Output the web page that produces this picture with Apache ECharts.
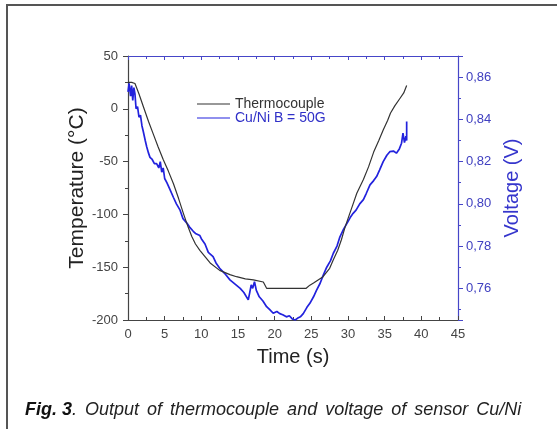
<!DOCTYPE html>
<html>
<head>
<meta charset="utf-8">
<script src="https://cdn.jsdelivr.net/npm/echarts@6/dist/echarts.min.js"></script>
<style>
html,body{margin:0;padding:0;background:#fff;}
#chart{width:557px;height:429px;}
</style>
</head>
<body>
<div id="chart"></div>
<script>
// thermocouple : time (s) / temperature (°C)
var timeT = [0, 0.5, 0.95, 1.5, 2.1, 2.8, 3.45, 4.1, 4.8, 5.5, 6.2, 6.9, 7.55, 8.2, 8.7, 9.2, 9.8, 10.5, 11.2, 12.5, 13.9,
	14.8, 16, 17.1, 18.45, 18.9, 20, 22, 24.3, 24.8, 25.3, 26.6, 27.5, 28, 28.6, 29.1, 29.6, 30.2, 30.7, 31.2, 32.1, 32.8,
	33.5, 34.2, 34.8, 35.4, 35.8, 36.4, 37.1, 37.6, 38.0];
var tempT = [25, 25, 24, 14, 2, -12, -24, -36, -48, -59, -71, -85, -99, -112, -121, -128, -134, -140, -146, -153, -157,
	-159, -161, -162, -164, -170, -170, -170, -170, -167, -165, -159, -151, -143, -134, -124, -112, -100, -90, -80, -67, -55,
	-41, -30, -20, -11, -4, 3, 10, 15, 22];

// capteur Cu/Ni B = 50G : time (s) / voltage (V)
var timeV = [0, 0.15, 0.35, 0.5, 0.65, 0.8, 0.95, 1.1, 1.3, 1.5, 1.7, 1.9, 2.1, 2.35, 2.55, 2.8, 3.0, 3.3, 3.6, 3.9,
	4.2, 4.4, 4.6, 4.8, 5.0, 5.3, 5.7, 6.2, 6.6, 7.1, 7.5, 8.0, 8.4, 8.9, 9.2, 9.5, 9.8, 10.0, 10.5, 10.95, 11.6, 12.0,
	12.5, 13.2, 13.9, 14.6, 15.3, 15.8, 16.4, 16.6, 16.8, 17.0, 17.25, 17.5, 17.9, 18.4, 18.9, 19.3, 19.8, 20.3, 20.7,
	21.1, 21.6, 22.0, 22.4, 22.8, 23.1, 23.5, 23.9, 24.4, 24.8, 25.3, 25.7, 26.2, 26.6, 27.1, 27.6, 28.0, 28.5, 28.9,
	29.4, 29.9, 30.3, 30.7, 31.1, 31.6, 32.1, 32.5, 33.0, 33.5, 33.9, 34.3, 34.8, 35.3, 35.7, 36.2, 36.6, 37.0, 37.3,
	37.5, 37.7, 37.9, 38.0, 38.0];
var volt = [0.853, 0.857, 0.851, 0.856, 0.849, 0.855, 0.852, 0.845, 0.846, 0.841, 0.842, 0.837, 0.834, 0.830, 0.827,
	0.824, 0.822, 0.821, 0.819, 0.819, 0.817, 0.820, 0.815, 0.817, 0.812, 0.810, 0.807, 0.803, 0.800, 0.797, 0.793,
	0.791, 0.789, 0.787, 0.786, 0.7855, 0.785, 0.7835, 0.781, 0.777, 0.775, 0.772, 0.7695, 0.767, 0.764, 0.762, 0.760,
	0.758, 0.7545, 0.758, 0.7616, 0.760, 0.7631, 0.759, 0.756, 0.754, 0.7513, 0.750, 0.7482, 0.749, 0.748, 0.7475,
	0.7465, 0.747, 0.7455, 0.745, 0.7458, 0.7465, 0.748, 0.751, 0.7529, 0.756, 0.759, 0.7624, 0.766, 0.770, 0.773,
	0.7766, 0.780, 0.7844, 0.788, 0.791, 0.7935, 0.7955, 0.797, 0.800, 0.802, 0.805, 0.809, 0.811, 0.8129, 0.816,
	0.820, 0.823, 0.8247, 0.825, 0.824, 0.826, 0.8287, 0.8335, 0.829, 0.832, 0.830, 0.839];

var xTicks = [0, 45, 5];
var tempRange = [-200, 50, 50];
var voltRange = [0.745, 0.87];
var captionWords = ['Output', 'of', 'thermocouple', 'and', 'voltage', 'of', 'sensor', 'Cu/Ni'];

function zip(a, b) {
	var out = [];
	for (var i = 0; i < a.length; i++) out.push([a[i], b[i]]);
	return out;
}

var FONT = 'Liberation Sans, Arial, sans-serif';
var BLUE = '#2222dd';
var BLUE_AX = '#4646c8';
var GREY = '#444';

// legende justifiee comme dans la figure d'origine
var caption = '{b|Fig. 3}{n|.}{s| }' + captionWords.map(function (w) { return '{n|' + w + '}'; }).join('{s| }');

var myChart = echarts.init(document.getElementById('chart'));
var option = {
	animation: false,
	backgroundColor: '#fff',
	textStyle: { fontFamily: FONT },
	grid: { left: 128, right: 99, top: 56, bottom: 109 },
	legend: {
		orient: 'vertical',
		left: 192,
		top: 92,
		itemWidth: 33,
		itemHeight: 1,
		itemGap: 0,
		textStyle: { fontSize: 14, lineHeight: 14, fontFamily: FONT },
		data: [
			{ name: 'Thermocouple', icon: 'rect', textStyle: { color: '#333' } },
			{ name: 'Cu/Ni B = 50G', icon: 'rect', textStyle: { color: '#3030c8' } }
		]
	},
	xAxis: [
		{
			type: 'value',
			min: xTicks[0], max: xTicks[1], interval: xTicks[2],
			name: 'Time (s)',
			nameLocation: 'middle',
			nameGap: 27,
			nameTextStyle: { fontSize: 20, color: '#222' },
			axisLine: { onZero: false, lineStyle: { color: GREY, width: 1.2 } },
			axisTick: { inside: true, length: 4, lineStyle: { color: GREY } },
			minorTick: { show: true, splitNumber: 2, length: 3, lineStyle: { color: GREY } },
			axisLabel: { fontSize: 13, color: '#444', margin: 8 },
			splitLine: { show: false }
		},
		{
			type: 'value',
			position: 'top',
			min: xTicks[0], max: xTicks[1], interval: xTicks[2],
			axisLine: { onZero: false, lineStyle: { color: BLUE_AX, width: 1.2 } },
			axisTick: { inside: true, length: 4, lineStyle: { color: BLUE_AX } },
			minorTick: { show: true, splitNumber: 2, length: 3, lineStyle: { color: BLUE_AX } },
			axisLabel: { show: false },
			splitLine: { show: false }
		}
	],
	yAxis: [
		{
			type: 'value',
			min: tempRange[0], max: tempRange[1], interval: tempRange[2],
			name: 'Temperature (°C)',
			nameLocation: 'middle',
			nameGap: 40,
			nameMoveOverlap: false,
			nameRotate: 90,
			nameTextStyle: { fontSize: 21, color: '#222' },
			axisLine: { show: true, onZero: false, lineStyle: { color: GREY, width: 1.2 } },
			axisTick: { show: true, length: 5, lineStyle: { color: GREY } },
			minorTick: { show: true, splitNumber: 2, length: 3, lineStyle: { color: GREY } },
			axisLabel: { fontSize: 13, color: '#444', margin: 10 },
			splitLine: { show: false }
		},
		{
			type: 'value',
			position: 'right',
			min: voltRange[0], max: voltRange[1],
			splitNumber: 6,
			name: 'Voltage (V)',
			nameLocation: 'middle',
			nameGap: 42,
			nameRotate: 90,
			nameTextStyle: { fontSize: 20, color: '#3535cc' },
			axisLine: { show: true, onZero: false, lineStyle: { color: BLUE_AX, width: 1.2 } },
			axisTick: { show: true, length: 5, lineStyle: { color: BLUE_AX } },
			minorTick: { show: true, splitNumber: 2, length: 3, lineStyle: { color: BLUE_AX } },
			axisLabel: {
				fontSize: 13, color: '#4040c0', margin: 8,
				showMinLabel: false, showMaxLabel: false,
				formatter: function (v) { return v.toFixed(2).replace('.', ','); }
			},
			splitLine: { show: false }
		}
	],
	series: [
		{
			name: 'Thermocouple',
			type: 'line',
			xAxisIndex: 0, yAxisIndex: 0,
			showSymbol: false, symbol: 'none',
			data: zip(timeT, tempT),
			lineStyle: { color: '#333', width: 1.2 },
			itemStyle: { color: '#333' },
			z: 3
		},
		{
			name: 'Cu/Ni B = 50G',
			type: 'line',
			xAxisIndex: 0, yAxisIndex: 1,
			showSymbol: false, symbol: 'none',
			data: zip(timeV, volt),
			lineStyle: { color: BLUE, width: 1.7 },
			itemStyle: { color: BLUE },
			z: 2
		}
	],
	graphic: [
		{
			type: 'rect',
			shape: { x: 7, y: 5, width: 560, height: 440 },
			style: { fill: 'none', stroke: '#555', lineWidth: 2 },
			silent: true
		},
		{
			type: 'text',
			left: 25,
			top: 401,
			style: {
				text: caption,
				rich: {
					b: { fontSize: 18, fontStyle: 'italic', fontWeight: 'bold', fontFamily: FONT, fill: '#111' },
					n: { fontSize: 18, fontStyle: 'italic', fontFamily: FONT, fill: '#222' },
					s: { fontSize: 18, width: 8 }
				}
			}
		}
	]
};
myChart.setOption(option);
</script>
</body>
</html>
